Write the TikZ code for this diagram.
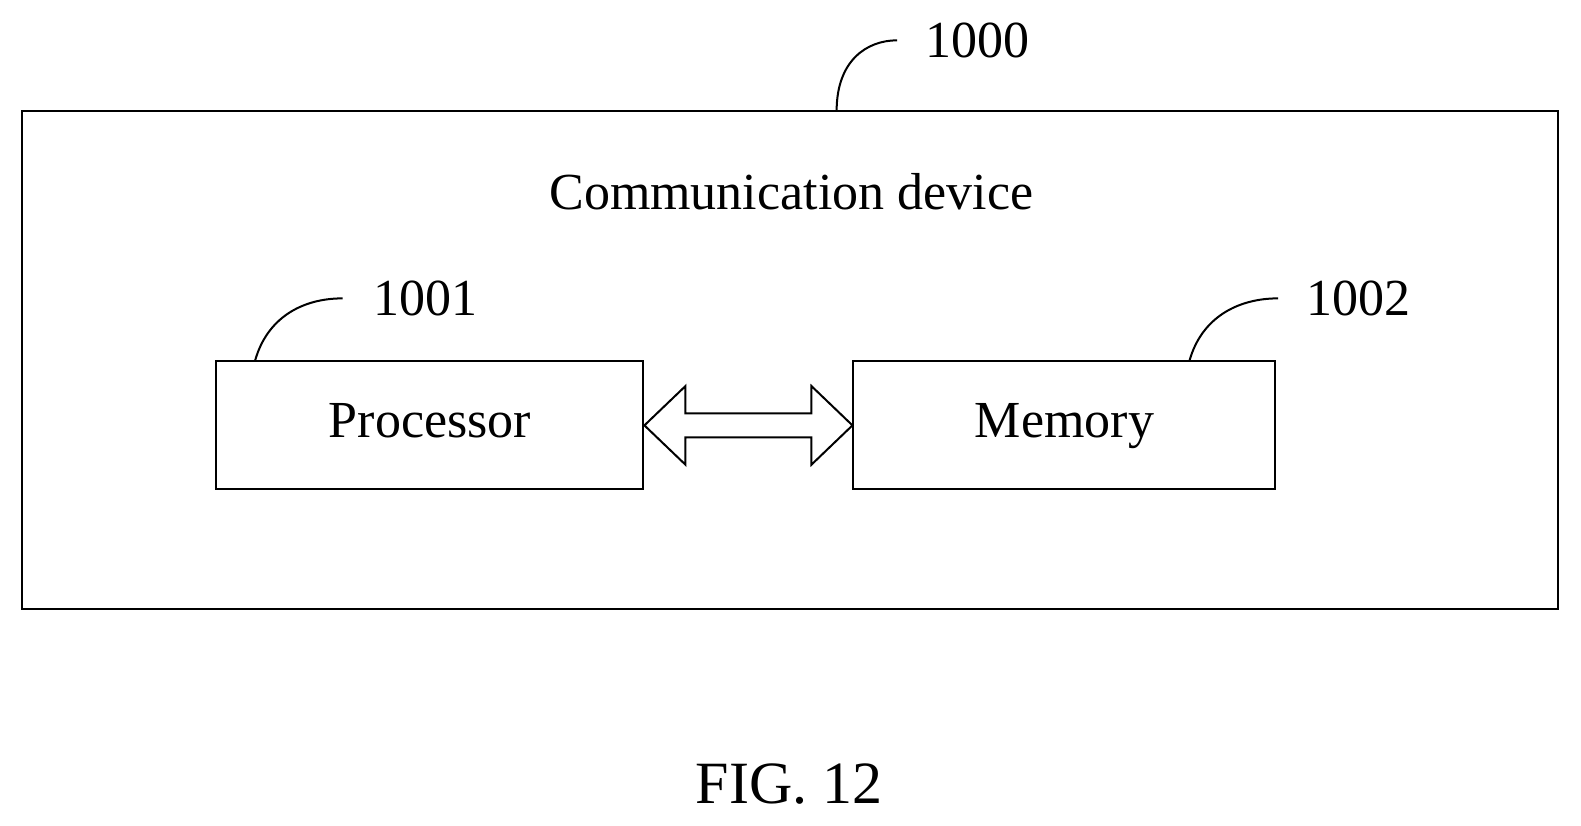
\documentclass[tikz,border=0pt]{standalone}
\usepackage{fontspec}
\setmainfont{Liberation Serif}
\begin{document}
\begin{tikzpicture}[x=1pt,y=-1pt,line width=2pt,
  lbl/.style={font=\fontsize{52}{60}\selectfont,inner sep=0},
  box/.style={draw,minimum width=#1,minimum height=128,inner sep=0,lbl,text height=36pt,text depth=11pt}]
\useasboundingbox (0,0) rectangle (1581,826);
\begin{scope}[x=1.008pt,y=-1.008pt]
\draw (22,110) rectangle (1546,604);
\node[lbl] (devt) at (785,190) {Communication device};
\node[box=427] (proc) at (426.5,422) {Processor};
\node[box=422] (mem) at (1056,422) {Memory};
\draw (proc.east) -- (680,383) -- (680,410) -- (805,410) -- (805,383) -- (mem.west)
  -- (805,461) -- (805,434) -- (680,434) -- (680,461) -- cycle;
\node[lbl] (n0) at (970,40) {1000};
\node[lbl] (n1) at (422,296) {1001};
\node[lbl] (n2) at (1348,296) {1002};
\coordinate (c0) at (830,110);
\coordinate (c1) at (253,358);
\coordinate (c2) at (1180,358);
\draw (c0) .. controls (830,60) and (860,40) .. (890,40);
\draw (c1) .. controls (265,315) and (300,296) .. (340,296);
\draw (c2) .. controls (1192,315) and (1228,296) .. (1268,296);
\node[font=\fontsize{60}{68}\selectfont,inner sep=0] (fig) at (783,778) {FIG. 12};
\end{scope}
\end{tikzpicture}
\end{document}
